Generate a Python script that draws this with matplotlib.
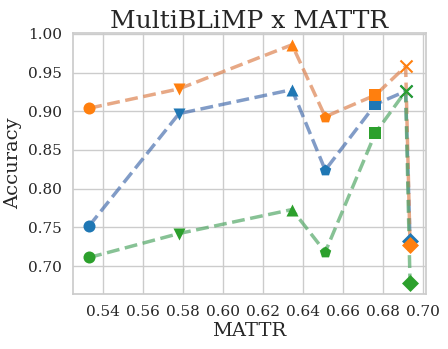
import matplotlib
matplotlib.use('Agg')
import matplotlib.pyplot as plt
import seaborn as sns

sns.set_theme(style='whitegrid')
plt.rcParams['font.family'] = ['DejaVu Serif']

# MATTR value per language/model point (x) and accuracy per series
mattr = [0.5333, 0.5782, 0.6347, 0.6513, 0.6764, 0.6915, 0.6937]
markers = ['o', 'v', '^', 'p', 's', 'x', 'D']

acc_blue = [0.752, 0.897, 0.928, 0.824, 0.909, 0.926, 0.732]
acc_orange = [0.904, 0.929, 0.986, 0.893, 0.921, 0.958, 0.727]
acc_green = [0.711, 0.742, 0.773, 0.718, 0.872, 0.926, 0.678]

# (values, line colour, marker colour)
series = [
    (acc_blue, '#4C72B0', '#1f77b4'),
    (acc_orange, '#DD8452', '#ff7f0e'),
    (acc_green, '#55A868', '#2ca02c'),
]

fig = plt.figure(figsize=(4.48, 3.49), dpi=100)
ax = fig.add_axes([0.163, 0.158, 0.788, 0.747])

for vals, lcol, mcol in series:
    ax.plot(mattr, vals, linestyle='--', color=lcol, alpha=0.7, linewidth=2.5, zorder=2)
    for x, y, m in zip(mattr, vals, markers):
        ax.scatter([x], [y], marker=m, color=mcol, s=75, zorder=3,
                   linewidths=1.5 if m == 'x' else 0)

ax.set_xlim(0.5252, 0.7017)
ax.set_ylim(0.664, 1.001)
ax.set_xticks([0.54, 0.56, 0.58, 0.60, 0.62, 0.64, 0.66, 0.68, 0.70])
ax.set_yticks([0.70, 0.75, 0.80, 0.85, 0.90, 0.95, 1.00])
ax.tick_params(labelsize=11, pad=2)
ax.set_xlabel('MATTR', fontsize=14, labelpad=2)
ax.set_ylabel('Accuracy', fontsize=14, labelpad=4)
ax.set_title('MultiBLiMP x MATTR', fontsize=18, pad=4)

fig.savefig('out.png', dpi=100)
